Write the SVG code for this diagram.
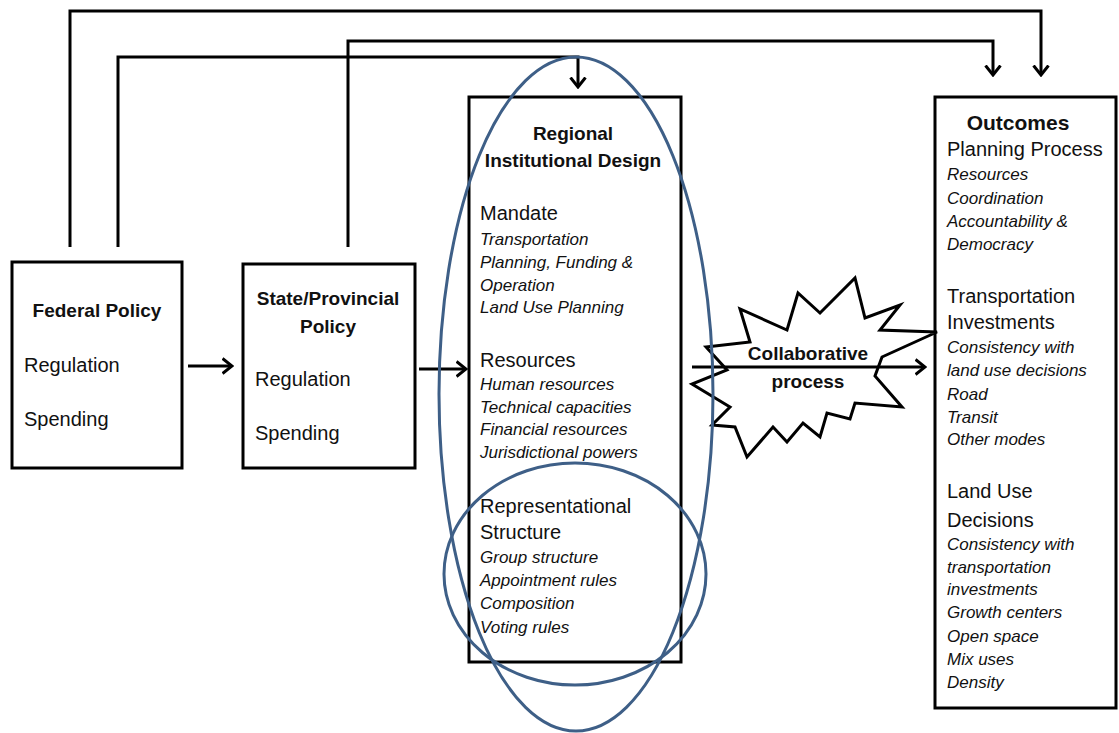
<svg xmlns="http://www.w3.org/2000/svg" width="1119" height="733" viewBox="0 0 1119 733">
<defs>
<style>
text{font-family:"Liberation Sans",Arial,sans-serif;fill:#111}
.b{font-weight:bold;font-size:19px}
.h{font-size:20px}
.i{font-style:italic;font-size:17px}
.box{fill:#fff;stroke:#000;stroke-width:3}
.con{fill:none;stroke:#000;stroke-width:3}
.ell{fill:none;stroke:#3e5f87;stroke-width:3}
</style>
<marker id="ah" viewBox="0 0 12 18" refX="10.5" refY="9" markerWidth="12" markerHeight="18" markerUnits="userSpaceOnUse" orient="auto">
<path d="M1,1.5 L10.5,9 L1,16.5" fill="none" stroke="#000" stroke-width="3"/>
</marker>
</defs>
<rect width="1119" height="733" fill="#fff"/>

<g id="federal">
<rect class="box" x="12" y="262" width="170" height="206"/>
<text class="b" x="97" y="317" text-anchor="middle">Federal Policy</text>
<text class="h" x="24" y="372">Regulation</text>
<text class="h" x="24" y="426">Spending</text>
</g>

<g id="state">
<rect class="box" x="243" y="264" width="172" height="204"/>
<text class="b" x="328" y="305" text-anchor="middle">State/Provincial</text>
<text class="b" x="328" y="333" text-anchor="middle">Policy</text>
<text class="h" x="255" y="386">Regulation</text>
<text class="h" x="255" y="440">Spending</text>
</g>

<g id="regional">
<rect class="box" x="469" y="97" width="212" height="565"/>
<text class="b" x="573" y="140" text-anchor="middle">Regional</text>
<text class="b" x="573" y="167" text-anchor="middle">Institutional Design</text>
<text class="h" x="480" y="220">Mandate</text>
<text class="i" x="480" y="245">Transportation</text>
<text class="i" x="480" y="268">Planning, Funding &amp;</text>
<text class="i" x="480" y="291">Operation</text>
<text class="i" x="480" y="313">Land Use Planning</text>
<text class="h" x="480" y="367">Resources</text>
<text class="i" x="480" y="390">Human resources</text>
<text class="i" x="480" y="413">Technical capacities</text>
<text class="i" x="480" y="435">Financial resources</text>
<text class="i" x="480" y="458">Jurisdictional powers</text>
<text class="h" x="480" y="513">Representational</text>
<text class="h" x="480" y="539">Structure</text>
<text class="i" x="480" y="563">Group structure</text>
<text class="i" x="480" y="586">Appointment rules</text>
<text class="i" x="480" y="609">Composition</text>
<text class="i" x="480" y="633">Voting rules</text>
</g>

<g id="outcomes">
<rect class="box" x="935" y="97" width="181" height="611"/>
<text class="b" x="1018" y="130" text-anchor="middle" style="font-size:21px">Outcomes</text>
<text class="h" x="947" y="156">Planning Process</text>
<text class="i" x="947" y="180">Resources</text>
<text class="i" x="947" y="204">Coordination</text>
<text class="i" x="947" y="227">Accountability &amp;</text>
<text class="i" x="947" y="250">Democracy</text>
<text class="h" x="947" y="303">Transportation</text>
<text class="h" x="947" y="329">Investments</text>
<text class="i" x="947" y="353">Consistency with</text>
<text class="i" x="947" y="376">land use decisions</text>
<text class="i" x="947" y="400">Road</text>
<text class="i" x="947" y="423">Transit</text>
<text class="i" x="947" y="445">Other modes</text>
<text class="h" x="947" y="498">Land Use</text>
<text class="h" x="947" y="527">Decisions</text>
<text class="i" x="947" y="550">Consistency with</text>
<text class="i" x="947" y="573">transportation</text>
<text class="i" x="947" y="595">investments</text>
<text class="i" x="947" y="618">Growth centers</text>
<text class="i" x="947" y="642">Open space</text>
<text class="i" x="947" y="665">Mix uses</text>
<text class="i" x="947" y="688">Density</text>
</g>

<g id="collaborative">
<polygon points="706,347 750,342 740,309 787,330 798,293 820,313 855,278 865,318 900,305 880,330 937,332 882,357 875,376 902,407 855,403 850,419 827,413 820,437 803,423 787,442 773,427 747,457 735,427 712,425 730,407 692,384 727,370" fill="#fff" stroke="#000" stroke-width="3" stroke-linejoin="miter"/>
</g>

<g id="connectors">
<path class="con" d="M70,247 V11 H1041 V75" marker-end="url(#ah)"/>
<path class="con" d="M348,247 V41 H993 V75" marker-end="url(#ah)"/>
<path class="con" d="M118,247 V57 H578 V87" marker-end="url(#ah)"/>
<path class="con" d="M188,366 H232" marker-end="url(#ah)"/>
<path class="con" d="M419,369 H466" marker-end="url(#ah)"/>
<path class="con" d="M692,367 H925" marker-end="url(#ah)"/>
</g>

<g id="collab-label">
<text class="b" x="808" y="360" text-anchor="middle">Collaborative</text>
<text class="b" x="808" y="388" text-anchor="middle">process</text>
</g>

<g id="ellipses">
<ellipse class="ell" cx="576" cy="394" rx="137" ry="337"/>
<ellipse class="ell" cx="575" cy="574" rx="131" ry="111"/>
</g>
</svg>
